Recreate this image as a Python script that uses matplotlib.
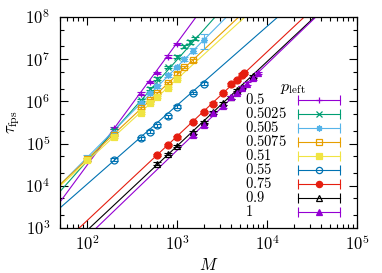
import numpy as np
import matplotlib
matplotlib.use('Agg')
import matplotlib.pyplot as plt
from matplotlib import ticker

plt.rcParams['mathtext.fontset'] = 'cm'
plt.rcParams['font.family'] = ['DejaVu Serif']

# series labels (p_left)
p_labels = ['0.5', '0.5025', '0.505', '0.5075', '0.51', '0.55', '0.75', '0.9', '1']

# data points: system size M, tau_fps, relative error
M_0500 = [200, 400, 500, 600, 800, 1000]
tau_0500 = [2.34e5, 1.50e6, 2.88e6, 4.71e6, 1.13e7, 2.29e7]
err_0500 = [0.08, 0.08, 0.08, 0.08, 0.08, 0.08]

M_05025 = [200, 400, 500, 600, 800, 1000, 1200, 1400, 1600]
tau_05025 = [2.09e5, 1.08e6, 2.0e6, 3.40e6, 6.53e6, 1.13e7, 2.0e7, 2.6e7, 3.1e7]
err_05025 = [0.08, 0.08, 0.08, 0.08, 0.08, 0.08, 0.1, 0.1, 0.1]

M_0505 = [100, 200, 400, 500, 600, 800, 1000, 1200, 1500, 2000]
tau_0505 = [4.57e4, 1.78e5, 9.16e5, 1.58e6, 2.30e6, 4.1e6, 6.53e6, 1.0e7, 1.6e7, 2.85e7]
err_0505 = [0.17, 0.08, 0.08, 0.08, 0.08, 0.08, 0.08, 0.1, 0.12, 0.4]

M_05075 = [100, 200, 400, 500, 600, 800, 1000, 1200, 1500]
tau_05075 = [4.27e4, 1.6e5, 6.98e5, 1.08e6, 1.58e6, 2.73e6, 4.47e6, 6.53e6, 9.55e6]
err_05075 = [0.08, 0.08, 0.08, 0.08, 0.08, 0.08, 0.08, 0.08, 0.08]

M_0510 = [100, 200, 400, 500, 600, 800, 1000]
tau_0510 = [4.07e4, 1.45e5, 5.31e5, 9.16e5, 1.27e6, 2.08e6, 3.39e6]
err_0510 = [0.08, 0.08, 0.08, 0.08, 0.08, 0.08, 0.08]

M_0550 = [200, 400, 500, 600, 800, 1000, 1500, 2000]
tau_0550 = [4.17e4, 1.35e5, 1.91e5, 2.75e5, 4.47e5, 7.41e5, 1.58e6, 2.63e6]
err_0550 = [0.08, 0.08, 0.08, 0.08, 0.08, 0.08, 0.08, 0.08]

M_0750 = [600, 800, 1000, 1500, 2000, 2500, 3200, 4000, 4600, 5200, 5600]
tau_0750 = [5.37e4, 9.27e4, 1.43e5, 3.25e5, 5.61e5, 8.71e5, 1.58e6, 2.57e6, 3.21e6, 4.23e6, 4.71e6]
err_0750 = [0.08, 0.08, 0.08, 0.08, 0.08, 0.08, 0.08, 0.08, 0.08, 0.08, 0.08]

M_0900 = [600, 800, 1000, 1500, 2000, 2500, 3200, 4000, 4600, 5200, 7000]
tau_0900 = [3.31e4, 5.68e4, 8.77e4, 1.88e5, 3.25e5, 5.5e5, 8.91e5, 1.26e6, 1.86e6, 2.19e6, 3.98e6]
err_0900 = [0.08, 0.08, 0.08, 0.08, 0.08, 0.08, 0.08, 0.08, 0.08, 0.08, 0.08]

M_1000 = [1500, 2000, 2500, 3200, 4000, 4600, 5200, 6000, 7000, 8000]
tau_1000 = [1.58e5, 2.75e5, 5.31e5, 7.76e5, 1.26e6, 1.58e6, 2.09e6, 2.63e6, 3.5e6, 4.71e6]
err_1000 = [0.08, 0.08, 0.08, 0.08, 0.08, 0.08, 0.08, 0.08, 0.08, 0.08]

# power-law fits tau = 10**logA * M**z
fit_z = [2.9, 2.4, 2.15, 2.0, 1.95, 1.87, 2.0, 2.0, 2.05]
fit_logA = [-1.313, -0.215, 0.368, 0.628, 0.68, 0.297, -0.826, -1.057, -1.311]

series_M = [M_0500, M_05025, M_0505, M_05075, M_0510, M_0550, M_0750, M_0900, M_1000]
series_tau = [tau_0500, tau_05025, tau_0505, tau_05075, tau_0510, tau_0550, tau_0750, tau_0900, tau_1000]
series_err = [err_0500, err_05025, err_0505, err_05075, err_0510, err_0550, err_0750, err_0900, err_1000]

colors = ['#9400d3', '#009e73', '#56b4e9', '#e69f00', '#f0e442',
          '#0072b2', '#e51e10', '#000000', '#9400d3']
markers = ['+', 'x', (8, 2, 0), 's', 's', 'o', 'o', '^', '^']
filled = [True, True, True, False, True, False, True, False, True]

fig = plt.figure(figsize=(3.82, 2.73), dpi=100)
ax = fig.add_axes([0.157, 0.165, 0.778, 0.773])
ax.set_xscale('log')
ax.set_yscale('log')
ax.set_xlim(50, 1e5)
ax.set_ylim(1e3, 1e8)

xfit = np.geomspace(50, 1e5, 200)
for i in range(len(p_labels)):
    c = colors[i]
    ax.plot(xfit, 10 ** fit_logA[i] * xfit ** fit_z[i], color=c, lw=0.8, zorder=2)
    M = np.array(series_M[i])
    tau = np.array(series_tau[i])
    yerr = tau * np.array(series_err[i])
    ax.errorbar(M, tau, yerr=yerr, fmt='none', ecolor=c, elinewidth=0.8,
                capsize=2.8, capthick=0.8, zorder=3)
    ax.plot(M, tau, ls='none', marker=markers[i], ms=5, mew=0.9, color=c,
            mfc=c if filled[i] else 'none', zorder=4)

# axes styling
fmt = ticker.FuncFormatter(lambda v, pos: r'$10^{%d}$' % round(np.log10(v)))
ax.xaxis.set_major_formatter(fmt)
ax.yaxis.set_major_formatter(fmt)
ax.xaxis.set_minor_locator(ticker.LogLocator(base=10, subs=np.arange(2, 10), numticks=20))
ax.yaxis.set_minor_locator(ticker.LogLocator(base=10, subs=[2, 5], numticks=20))
ax.xaxis.set_minor_formatter(ticker.NullFormatter())
ax.yaxis.set_minor_formatter(ticker.NullFormatter())
ax.tick_params(which='both', direction='in', top=True, right=True, width=0.8, labelsize=12)
ax.tick_params(which='major', length=5.5)
ax.tick_params(which='minor', length=3)
ax.tick_params(axis='y', pad=7)
ax.tick_params(axis='x', pad=5)
for s in ax.spines.values():
    s.set_linewidth(0.9)

ax.set_xlabel(r'$M$', fontsize=12, labelpad=2)
ax.set_ylabel(r'$\tau_{\rm fps}$', fontsize=12, labelpad=2)

# hand-made key (gnuplot style)
ax.text(0.74, 0.664, r'$p_{\rm left}$', transform=ax.transAxes, fontsize=11.5,
        ha='left', va='center')
row_y = 0.607
for i in range(len(p_labels)):
    c = colors[i]
    ax.text(0.623, row_y, '$' + p_labels[i] + '$', transform=ax.transAxes,
            fontsize=10.5, ha='left', va='center')
    ax.plot([0.801, 0.943], [row_y, row_y], color=c, lw=0.8, transform=ax.transAxes,
            clip_on=False, zorder=5)
    ax.plot([0.801, 0.943], [row_y, row_y], ls='none', marker='|', ms=7, mew=0.8,
            color=c, transform=ax.transAxes, clip_on=False, zorder=5)
    ax.plot([0.872], [row_y], ls='none', marker=markers[i], ms=4.5, mew=0.9, color=c,
            mfc=c if filled[i] else 'none', transform=ax.transAxes, clip_on=False, zorder=5)
    row_y -= 0.0664

fig.savefig('out.png', dpi=100)
